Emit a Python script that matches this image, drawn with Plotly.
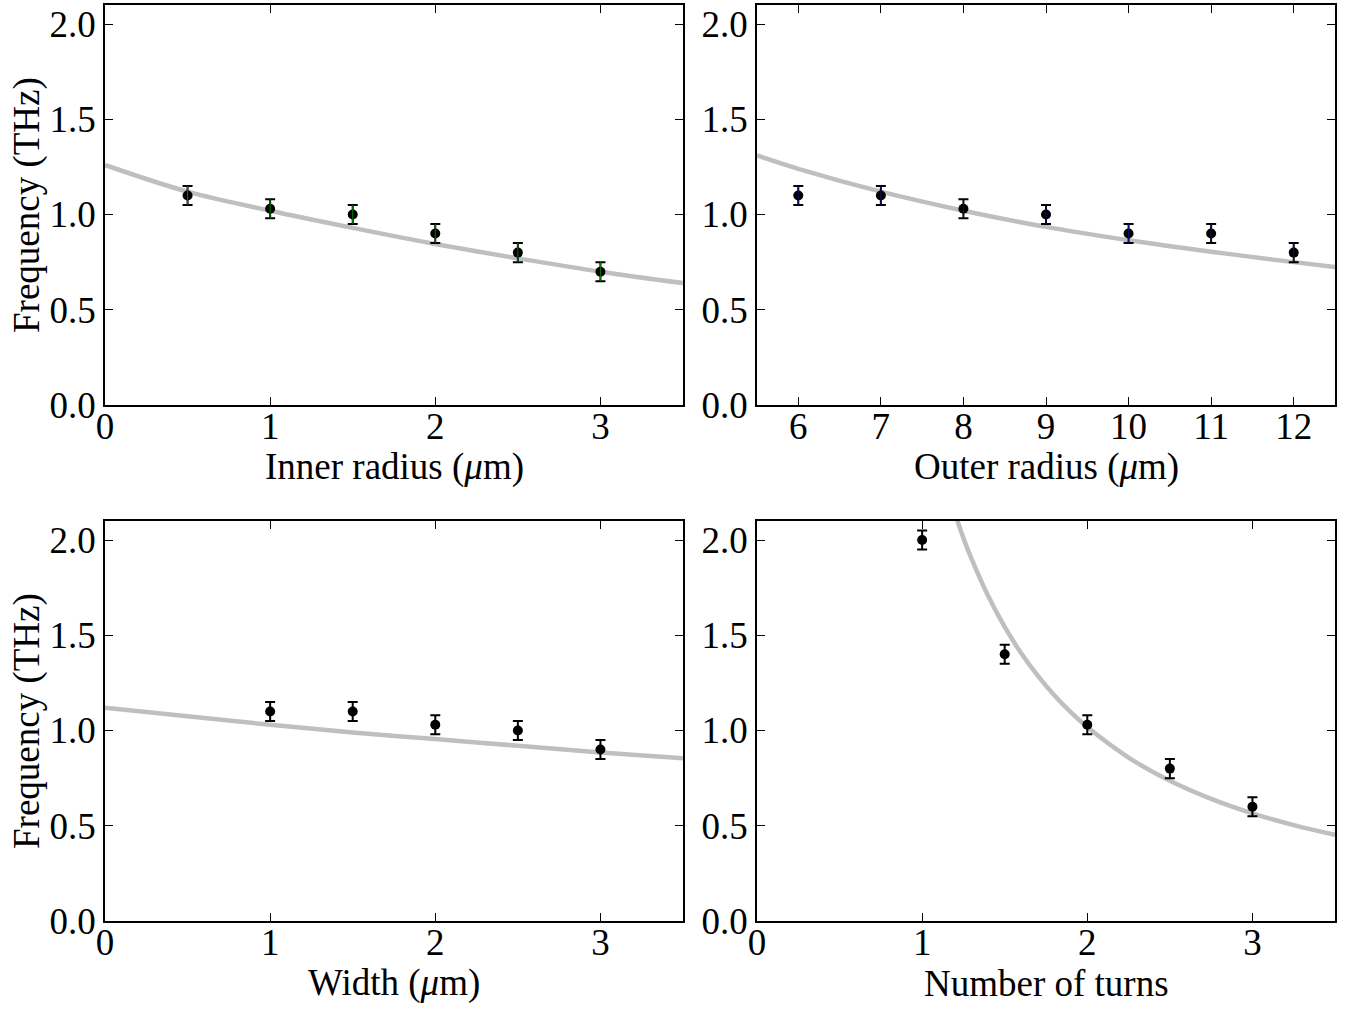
import plotly.graph_objects as go
from plotly.subplots import make_subplots

# ---- data ----
inner_x = [0.5, 1.0, 1.5, 2.0, 2.5, 3.0]
inner_y = [1.10, 1.03, 1.00, 0.90, 0.80, 0.70]
inner_err = [0.05, 0.05, 0.05, 0.05, 0.05, 0.05]
inner_fit_x = [0.0, 0.5, 1.0, 1.5, 2.0, 2.5, 3.0, 3.5]
inner_fit_y = [1.26, 1.12, 1.02, 0.93, 0.845, 0.77, 0.70, 0.64]

outer_x = [6, 7, 8, 9, 10, 11, 12]
outer_y = [1.10, 1.10, 1.03, 1.00, 0.90, 0.90, 0.80]
outer_err = [0.05, 0.05, 0.05, 0.05, 0.05, 0.05, 0.05]
outer_fit_x = [5.5, 6, 7, 8, 9, 10, 11, 12, 12.5]
outer_fit_y = [1.31, 1.24, 1.12, 1.02, 0.935, 0.865, 0.805, 0.75, 0.725]

width_x = [1.0, 1.5, 2.0, 2.5, 3.0]
width_y = [1.10, 1.10, 1.03, 1.00, 0.90]
width_err = [0.05, 0.05, 0.05, 0.05, 0.05]
width_fit_x = [0.0, 0.5, 1.0, 1.5, 2.0, 2.5, 3.0, 3.5]
width_fit_y = [1.12, 1.075, 1.03, 0.99, 0.955, 0.92, 0.885, 0.855]

turns_x = [1.0, 1.5, 2.0, 2.5, 3.0]
turns_y = [2.00, 1.40, 1.03, 0.80, 0.60]
turns_err = [0.05, 0.05, 0.05, 0.05, 0.05]
turns_fit_x = [1.15, 1.25, 1.3, 1.4, 1.5, 1.6, 1.7, 1.8, 1.9, 2.0, 2.25, 2.5, 2.75, 3.0, 3.25, 3.5]
turns_fit_y = [2.27, 2.01, 1.90, 1.706, 1.544, 1.406, 1.288, 1.185, 1.096, 1.018, 0.858, 0.736, 0.641, 0.565, 0.503, 0.452]

y_ticks = [0.0, 0.5, 1.0, 1.5, 2.0]
y_ticklabels = ["0.0", "0.5", "1.0", "1.5", "2.0"]
y_title = "Frequency (THz)"

panels = [
    (1, 1, inner_x, inner_y, inner_err, inner_fit_x, inner_fit_y, "Inner radius (<i>μ</i>m)", [0, 3.5], [0, 1, 2, 3], "green"),
    (1, 2, outer_x, outer_y, outer_err, outer_fit_x, outer_fit_y, "Outer radius (<i>μ</i>m)", [5.5, 12.5], [6, 7, 8, 9, 10, 11, 12], "#10106a"),
    (2, 1, width_x, width_y, width_err, width_fit_x, width_fit_y, "Width (<i>μ</i>m)", [0, 3.5], [0, 1, 2, 3], None),
    (2, 2, turns_x, turns_y, turns_err, turns_fit_x, turns_fit_y, "Number of turns", [0, 3.5], [0, 1, 2, 3], None),
]

W, H = 1350, 1010
FONT = "Liberation Serif"
FS = 37

# axes boxes in pixels (left, right, top, bottom)
col_px = {1: (105, 683), 2: (757, 1335)}
row_px = {1: (5, 405), 2: (521, 921)}

fig = make_subplots(rows=2, cols=2)

for (r, c, xs, ys, es, fx, fy, xt, xr, xticks, inner_col) in panels:
    fig.add_trace(go.Scatter(x=fx, y=fy, mode="lines", line=dict(color="#bfbfbf", width=4.5, shape="spline"),
                             showlegend=False, hoverinfo="skip"), row=r, col=c)
    fig.add_trace(go.Scatter(x=xs, y=ys, mode="markers",
                             marker=dict(color="black", size=10),
                             error_y=dict(type="data", array=es, visible=True, color="black", thickness=2, width=5),
                             showlegend=False), row=r, col=c)
    if inner_col:
        fig.add_trace(go.Scatter(x=xs, y=ys, mode="markers",
                                 marker=dict(color="rgba(0,0,0,0)", size=1),
                                 error_y=dict(type="data", array=es, visible=True, color=inner_col, thickness=1, width=0),
                                 showlegend=False, hoverinfo="skip"), row=r, col=c)
    x0, x1 = col_px[c]
    y0, y1 = row_px[r]
    fig.update_xaxes(range=xr, tickvals=xticks, ticktext=[str(v) for v in xticks],
                     domain=[x0 / W, x1 / W], row=r, col=c)
    fig.update_yaxes(range=[0, 2.1], tickvals=y_ticks, ticktext=y_ticklabels,
                     domain=[1 - y1 / H, 1 - y0 / H], row=r, col=c)
    # x-axis title
    fig.add_annotation(text=xt, xref="paper", yref="paper",
                       x=(x0 + x1) / 2 / W, y=1 - (y1 + 62) / H, xanchor="center", yanchor="middle",
                       showarrow=False, font=dict(family=FONT, size=FS, color="black"))
    if c == 1:
        fig.add_annotation(text=y_title, xref="paper", yref="paper", textangle=-90,
                           x=27 / W, y=1 - (y0 + y1) / 2 / H, xanchor="center", yanchor="middle",
                           showarrow=False, font=dict(family=FONT, size=FS, color="black"))

common = dict(showline=True, linecolor="black", linewidth=1.5, mirror="ticks", ticks="inside",
              ticklen=8, tickwidth=1, tickcolor="black", showgrid=False, zeroline=False, automargin=False,
              tickfont=dict(family=FONT, size=FS, color="black"))
fig.update_xaxes(ticklabelstandoff=-12, **common)
fig.update_yaxes(**common)

fig.update_layout(
    width=W, height=H,
    margin=dict(l=0, r=0, t=0, b=0),
    plot_bgcolor="white", paper_bgcolor="white",
    font=dict(family=FONT, color="black"),
    showlegend=False,
)

fig.write_html("out.html", config={"displayModeBar": False},
               post_script="document.body.style.margin='0px';document.body.style.overflow='hidden';")
